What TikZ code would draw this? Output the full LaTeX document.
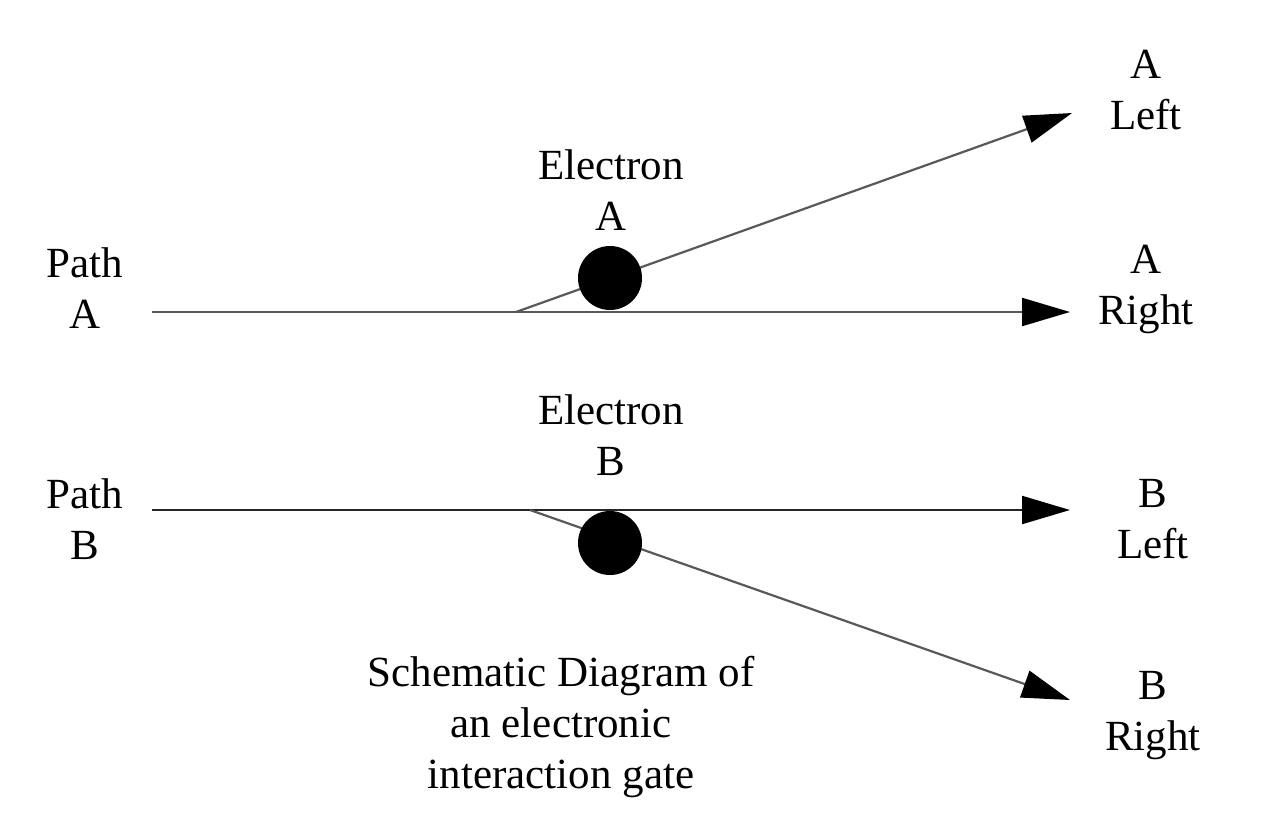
\documentclass[tikz,border=0pt]{standalone}
\usepackage{fontspec}
\setmainfont{Liberation Serif}
\usetikzlibrary{arrows.meta}
\begin{document}
\begin{tikzpicture}[x=1pt,y=-1pt,
  lbl/.style={align=center,font=\fontsize{43}{51}\selectfont,inner sep=0pt},
  path line/.style={draw=black!65,line width=2.2pt},
  arrowline/.style={path line,-{Triangle[length=48pt,width=28pt,color=black,fill=black]}},
  electron/.style={circle,fill=black,minimum size=64pt,inner sep=0pt}]
\fill[white] (0,0) rectangle (1280,835);
\useasboundingbox (0,0) rectangle (1280,835);
% labels
\node[lbl] (pA) at (85,288) {Path\\A};
\node[lbl] (pB) at (85,519) {Path\\B};
\node[lbl] (eAl) at (611,190) {Electron\\A};
\node[lbl] (eBl) at (611,435) {Electron\\B};
\node[lbl] (aL) at (1146,90) {A\\Left};
\node[lbl] (aR) at (1146,289) {A\\Right};
\node[lbl] (bL) at (1153,519) {B\\Left};
\node[lbl] (bR) at (1153,716) {B\\Right};
\node[lbl] (cap) at (561,727) {Schematic Diagram of\\an electronic\\interaction gate};
% geometry
\coordinate (sA) at (152,312);
\coordinate (jA) at (516,312);
\coordinate (tAR) at (1070,312);
\coordinate (tAL) at (1072,113);
\coordinate (sB) at (152,510);
\coordinate (jB) at (530,510);
\coordinate (tBL) at (1070,510);
\coordinate (tBR) at (1070,700);
% lines
\draw[arrowline] (sA) -- (tAR);
\draw[arrowline] (jA) -- (tAL);
\draw[arrowline,draw=black!85] (sB) -- (tBL);
\draw[arrowline] (jB) -- (tBR);
% electrons
\node[electron] (eA) at (610,278) {};
\node[electron] (eB) at (610,543) {};
\end{tikzpicture}
\end{document}
